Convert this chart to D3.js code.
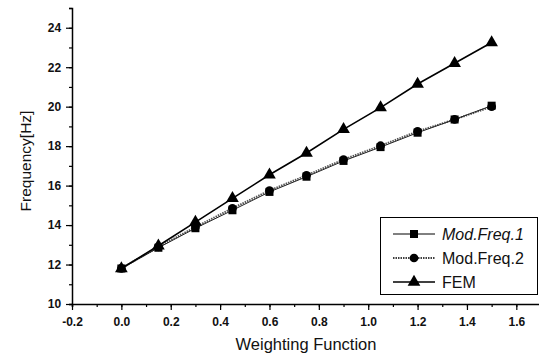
<!DOCTYPE html>
<html>
<head>
<meta charset="utf-8">
<script src="https://cdn.jsdelivr.net/npm/d3@7"></script>
<style>
  body { margin: 0; background: #fff; }
  svg { display: block; font-family: "Liberation Sans", Arial, sans-serif; }
</style>
</head>
<body>
<svg id="chart" width="539" height="358"></svg>
<script>
// data
const weights = [0, 0.15, 0.3, 0.45, 0.6, 0.75, 0.9, 1.05, 1.2, 1.35, 1.5];
const modFreq1 = [11.8, 12.85, 13.84, 14.75, 15.68, 16.45, 17.25, 17.95, 18.68, 19.35, 20.05];
const modFreq2 = [11.8, 12.9, 13.9, 14.85, 15.75, 16.52, 17.32, 18.02, 18.75, 19.35, 20.0];
const fem = [11.8, 12.95, 14.15, 15.35, 16.55, 17.65, 18.85, 19.95, 21.15, 22.2, 23.25];
const xTicks = [-0.2, 0.0, 0.2, 0.4, 0.6, 0.8, 1.0, 1.2, 1.4, 1.6];
const yTicks = [10, 12, 14, 16, 18, 20, 22, 24];
const seriesNames = ['Mod.Freq.1', 'Mod.Freq.2', 'FEM'];

const svg = d3.select('#chart');
const mLeft = 72, mRight = 541, mTop = 8, mBottom = 304;

const x = d3.scaleLinear().domain([-0.2, 1.7]).range([mLeft, mRight]);
const y = d3.scaleLinear().domain([10, 25]).range([mBottom, mTop]);

// axes
const xAxis = svg.append('g').attr('transform', 'translate(0,' + mBottom + ')');
xAxis.call(d3.axisBottom(x).tickValues(d3.range(-0.2, 1.71, 0.1)).tickSize(3).tickFormat(''));
xAxis.append('g').call(d3.axisBottom(x).tickValues(xTicks).tickSize(6)
  .tickFormat(d => d3.format('.1f')(d).replace('\u2212', '-')))
  .call(g => g.select('.domain').remove());

const yAxis = svg.append('g').attr('transform', 'translate(' + mLeft + ',0)');
yAxis.call(d3.axisLeft(y).tickValues(d3.range(10, 25.1, 1)).tickSize(3).tickFormat(''));
yAxis.append('g').call(d3.axisLeft(y).tickValues(yTicks).tickSize(6))
  .call(g => g.select('.domain').remove());

svg.selectAll('.domain').attr('stroke', '#000').attr('stroke-width', 1.5);
svg.selectAll('.tick line').attr('stroke', '#000').attr('stroke-width', 1.2);
svg.selectAll('.tick text').attr('fill', '#111').style('font-size', '12px').style('font-weight', 'bold');
xAxis.selectAll('.tick text').attr('dy', '1.1em');
yAxis.selectAll('.tick text').attr('dx', '-0.15em');

// axis titles
svg.append('text')
  .attr('x', 306).attr('y', 350)
  .attr('text-anchor', 'middle')
  .style('font-size', '16.5px').attr('fill', '#111')
  .text('Weighting Function');
svg.append('text')
  .attr('transform', 'translate(31,161) rotate(-90)')
  .attr('text-anchor', 'middle')
  .style('font-size', '15.5px').attr('fill', '#111')
  .text('Frequency[Hz]');

// lines
const line = d3.line().x((d, i) => x(weights[i])).y(d => y(d));
svg.append('path').datum(modFreq2).attr('d', line)
  .attr('fill', 'none').attr('stroke', '#555').attr('stroke-width', 2)
  .attr('stroke-dasharray', '1.5,1');
svg.append('path').datum(modFreq1).attr('d', line)
  .attr('fill', 'none').attr('stroke', '#222').attr('stroke-width', 1);
svg.append('path').datum(fem).attr('d', line)
  .attr('fill', 'none').attr('stroke', '#000').attr('stroke-width', 1.6);

// markers
const sq = d3.symbol(d3.symbolSquare, 64);
const ci = d3.symbol(d3.symbolCircle, 60);
const tr = d3.symbol(d3.symbolTriangle, 70);
function markers(vals, sym) {
  svg.append('g').selectAll('path').data(vals).join('path')
    .attr('d', sym)
    .attr('transform', (d, i) => 'translate(' + x(weights[i]) + ',' + y(d) + ')')
    .attr('fill', '#000');
}
markers(modFreq2, ci);
markers(modFreq1, sq);
markers(fem, tr);

// legend
const lg = svg.append('g');
lg.append('rect').attr('x', 380.5).attr('y', 217.5).attr('width', 157).attr('height', 77)
  .attr('fill', '#fff').attr('stroke', '#000').attr('stroke-width', 1);
const syms = [sq, ci, tr];
const dashes = [null, '1.5,1', null];
const widths = [1, 1.5, 1.6];
seriesNames.forEach((name, i) => {
  const ly = 234 + i * 24;
  lg.append('line').attr('x1', 393).attr('x2', 435).attr('y1', ly).attr('y2', ly)
    .attr('stroke', '#000').attr('stroke-width', widths[i])
    .attr('stroke-dasharray', dashes[i]);
  lg.append('path').attr('d', syms[i]).attr('transform', 'translate(414,' + ly + ')').attr('fill', '#000');
  lg.append('text').attr('x', 442).attr('y', ly + 6)
    .style('font-size', '16px').style('font-style', i === 0 ? 'italic' : 'normal')
    .attr('fill', '#111').text(name);
});
</script>
</body>
</html>
